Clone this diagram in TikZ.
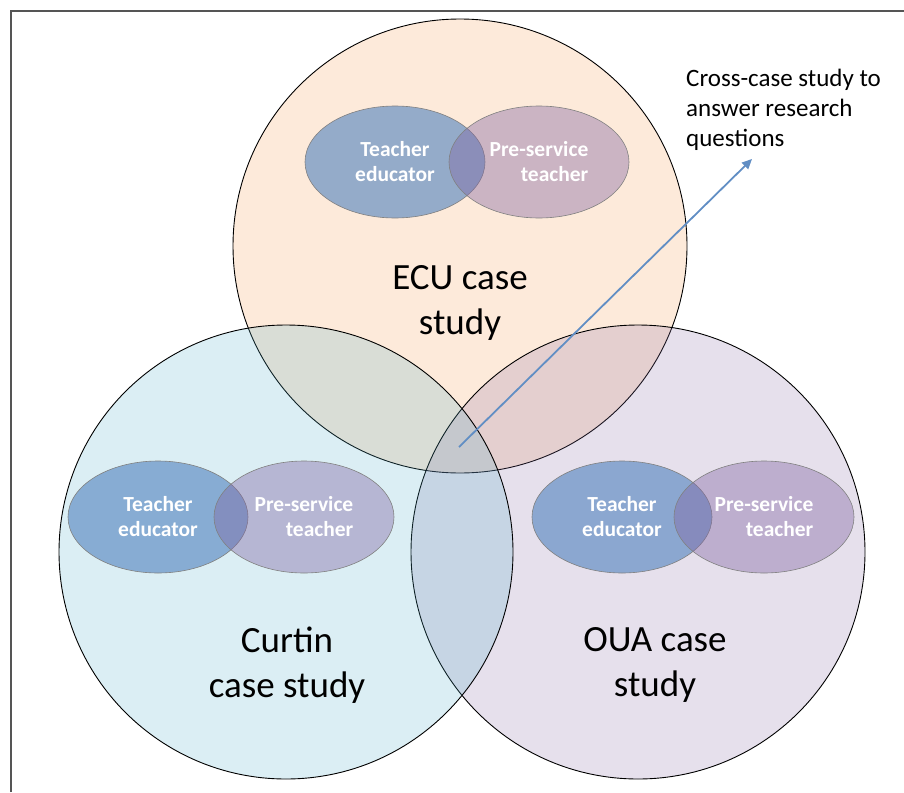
\documentclass[tikz,border=0pt]{standalone}
\usepackage{fontspec}
\setmainfont{Carlito}
\usetikzlibrary{shapes.geometric,arrows.meta}

\definecolor{ecucor}{HTML}{F79646}
\definecolor{curtincor}{HTML}{4BACC6}
\definecolor{ouacor}{HTML}{8064A2}
\definecolor{educor}{HTML}{4F81BD}
\definecolor{prescor}{HTML}{8064A2}
\definecolor{moldura}{HTML}{555555}

\begin{document}
\begin{tikzpicture}[x=1pt,y=-1pt,
    caso/.style={circle,draw=black,line width=0.9pt,minimum size=454pt,inner sep=0pt,fill opacity=0.2,draw opacity=1},
    titulo/.style={align=center,font=\fontsize{37}{45}\selectfont,inner sep=0pt},
    educ/.style={ellipse,draw=gray,line width=0.6pt,fill=educor,fill opacity=0.6,text opacity=1,
      minimum width=180pt,minimum height=112pt,inner sep=0pt,align=center,text=white,
      font=\bfseries\fontsize{21.5}{25}\selectfont},
    pres/.style={educ,fill=prescor,fill opacity=0.4,align=right},
    seta/.style={draw=educor!90!white,line width=1.8pt,-{Triangle[length=10pt,width=9pt]}}]
  \useasboundingbox (0,0) rectangle (904,792);

  %moldura
  \draw[moldura,line width=1.6pt] (11,792) -- (11,11) -- (904,11);

  %circulos grandes
  \node[caso,fill=ecucor] (ecu) at (460,246) {};
  \node[caso,fill=ouacor] (oua) at (638,552) {};
  \node[caso,fill=curtincor] (curtin) at (286,552) {};

  %titulos
  \node[titulo] (ecutxt) at (460,303) {ECU case\\study};
  \node[titulo] (curtintxt) at (287,665) {Curtin\\case study};
  \node[titulo] (ouatxt) at (655,665) {OUA case\\study};

  %elipses
  \node[educ] (ecued) at (395,162) {Teacher\\educator};
  \node[pres] (ecupre) at (539,162) {Pre-service\\teacher};
  \node[educ] (curtined) at (158,517) {Teacher\\educator};
  \node[pres] (curtinpre) at (304,517) {Pre-service\\teacher};
  \node[educ] (ouaed) at (622,517) {Teacher\\educator};
  \node[pres] (ouapre) at (764,517) {Pre-service\\teacher};

  %seta
  \node[anchor=north west,align=left,inner sep=0pt,font=\fontsize{25}{30}\selectfont] (cruzado) at (686,69)
    {Cross-case study to\\answer research\\questions};
  \coordinate (inicio) at (459,447);
  \coordinate (fim) at (752,159);
  \draw[seta] (inicio) -- (fim);
\end{tikzpicture}
\end{document}
